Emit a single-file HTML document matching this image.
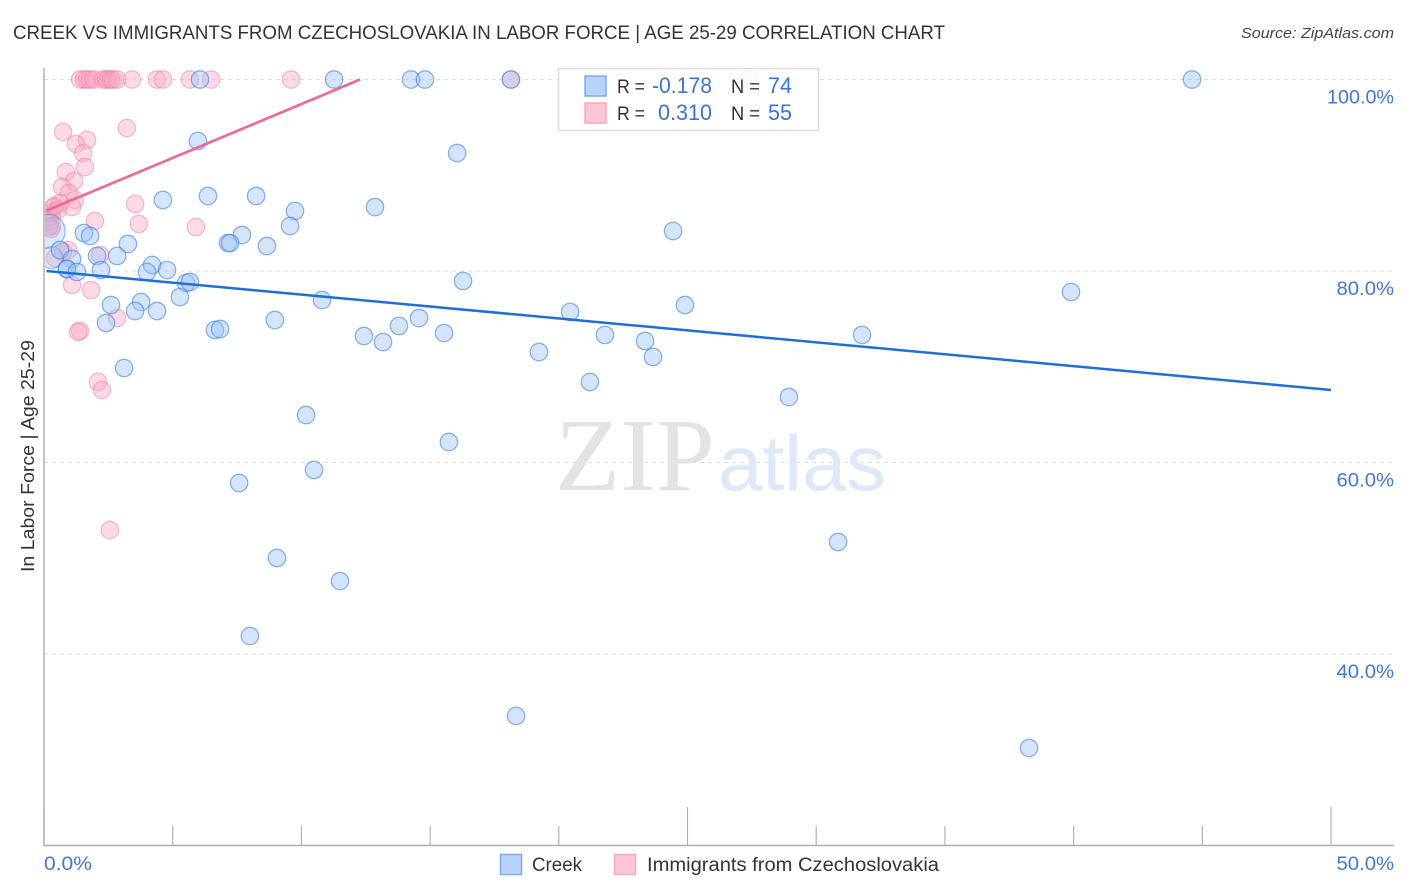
<!DOCTYPE html>
<html>
<head>
<meta charset="utf-8">
<title>Creek vs Immigrants from Czechoslovakia correlation chart</title>
<style>
html,body{margin:0;padding:0;background:#fff;width:1406px;height:892px;overflow:hidden}
svg{display:block;font-family:"Liberation Sans",sans-serif;filter:blur(0.3px)}
</style>
</head>
<body>
<svg id="chart" xmlns="http://www.w3.org/2000/svg" width="1406" height="892" viewBox="0 0 1406 892">
  <defs>
    <clipPath id="plot-clip"><rect x="45" y="60" width="1349" height="785"/></clipPath>
  </defs>
  <rect x="0" y="0" width="1406" height="892" fill="#ffffff"/>
  <text x="13" y="39" font-size="19" fill="#333333" textLength="932" lengthAdjust="spacingAndGlyphs">CREEK VS IMMIGRANTS FROM CZECHOSLOVAKIA IN LABOR FORCE | AGE 25-29 CORRELATION CHART</text>
  <text x="1241" y="38" font-size="15" font-style="italic" fill="#444444" textLength="153" lengthAdjust="spacingAndGlyphs">Source: ZipAtlas.com</text>
  <g id="grid"></g>
  <g>
    <text x="555" y="490" font-family="'Liberation Serif',serif" font-size="104" fill="#e3e3e3" textLength="160" lengthAdjust="spacingAndGlyphs">ZIP</text>
    <text x="718" y="490" font-size="78" fill="#dde8f8" textLength="168" lengthAdjust="spacingAndGlyphs">atlas</text>
  </g>
  <g id="axes"></g>
  <g id="points-pink" clip-path="url(#plot-clip)"></g>
  <g id="points-blue" clip-path="url(#plot-clip)"></g>
  <g id="lines"></g>
  <text transform="translate(34,572) rotate(-90)" font-size="18" fill="#333333" textLength="232" lengthAdjust="spacingAndGlyphs">In Labor Force | Age 25-29</text>
  <g id="tick-labels"></g>

  <g>
    <rect x="558.5" y="68.5" width="260" height="62" fill="#ffffff" fill-opacity="0.88" stroke="#dddddd" stroke-width="1.5"/>
    <rect x="585" y="76" width="21" height="20" fill="#b8d3f8" stroke="#7fabe8" stroke-width="1.5"/>
    <rect x="585" y="103" width="21" height="20" fill="#fdc6d7" stroke="#f5a9c0" stroke-width="1.5"/>
    <text x="617" y="93" font-size="19" fill="#333333" textLength="28" lengthAdjust="spacingAndGlyphs">R =</text>
    <text x="652" y="93" font-size="22" fill="#3b74d0" textLength="60" lengthAdjust="spacingAndGlyphs">-0.178</text>
    <text x="731" y="93" font-size="19" fill="#333333" textLength="29" lengthAdjust="spacingAndGlyphs">N =</text>
    <text x="768" y="93" font-size="22" fill="#3b74d0" textLength="24" lengthAdjust="spacingAndGlyphs">74</text>
    <text x="617" y="120" font-size="19" fill="#333333" textLength="28" lengthAdjust="spacingAndGlyphs">R =</text>
    <text x="658" y="120" font-size="22" fill="#3b74d0" textLength="54" lengthAdjust="spacingAndGlyphs">0.310</text>
    <text x="731" y="120" font-size="19" fill="#333333" textLength="29" lengthAdjust="spacingAndGlyphs">N =</text>
    <text x="768" y="120" font-size="22" fill="#3b74d0" textLength="24" lengthAdjust="spacingAndGlyphs">55</text>
  </g>

  <g>
    <rect x="500.5" y="854.5" width="21" height="20" fill="#b8d3f8" stroke="#7fabe8" stroke-width="1.5"/>
    <text x="532" y="871" font-size="19" fill="#333333" textLength="50" lengthAdjust="spacingAndGlyphs">Creek</text>
    <rect x="614.5" y="854.5" width="21" height="20" fill="#fdc6d7" stroke="#f5a9c0" stroke-width="1.5"/>
    <text x="647" y="871" font-size="19" fill="#333333" textLength="292" lengthAdjust="spacingAndGlyphs">Immigrants from Czechoslovakia</text>
  </g>
</svg>
<script>
var creekX = [6.06,11.27,14.26,14.80,18.14,27.35,44.60,5.98,16.05,6.37,4.62,8.24,9.75,12.86,9.56,24.44,1.55,1.79,7.69,7.15,7.23,3.26,8.66,0.62,2.84,2.06,1.09,0.89,4.20,4.00,4.78,0.89,1.28,2.21,5.52,5.67,16.28,5.28,2.60,3.77,10.80,39.90,24.90,3.54,4.39,20.44,2.41,8.97,14.57,13.79,6.64,6.84,15.54,12.43,13.17,21.79,23.35,31.78,19.23,23.66,3.11,21.21,28.94,10.18,15.73,10.49,7.58,30.85,9.05,11.50,8.00,18.34,38.27];
var creekY = [100,100,100,100,100,100,100,93.58,92.32,87.83,87.42,87.83,86.27,86.68,84.70,84.18,83.97,83.66,83.76,82.92,82.92,82.82,82.61,82.19,81.57,81.57,81.25,80.21,80.63,79.90,80.10,80.21,79.90,80.10,78.75,78.85,78.96,77.28,76.45,76.76,76.97,77.81,76.45,75.82,75.82,75.72,74.57,74.88,75.09,74.26,73.84,73.94,73.52,73.21,72.58,73.32,72.69,73.32,71.54,71.02,69.87,68.41,66.84,64.96,62.14,59.22,57.86,51.70,50.03,47.62,41.88,33.53,30.18];
var creekBigX = [0.16,0.3];
var creekBigY = [84.15,81.4];
var creekBigR = [17,11];

var immigrantsX = [1.40,1.55,1.67,1.79,1.94,2.29,2.41,2.49,2.60,2.68,2.84,3.42,4.39,4.62,5.67,6.49,9.60,18.14,0.74,1.67,1.24,1.52,3.22,1.59,0.85,1.17,0.70,0.97,1.20,1.09,3.54,3.69,1.98,5.90,0.93,2.18,0.43,0.74,1.09,1.83,2.84,1.40,1.32,2.10,2.25,2.56,0.23,0.31,0.16,0.23,0.31,0.27,0.19,0.43,0.62,0.35,0.54];
var immigrantsY = [100,100,100,100,100,100,100,100,100,100,100,100,100,100,100,100,100,100,94.52,93.68,93.26,92.32,94.93,90.86,90.34,89.40,88.77,88.15,87.42,86.68,87.00,84.91,85.22,84.60,82.19,81.67,81.36,81.98,78.54,78.02,75.09,73.73,73.63,68.41,67.57,52.95,86.06,85.85,85.54,85.12,84.70,84.39,84.60,86.79,87.10,86.68,86.37];

var creekTrendX = [0.1,50];
var creekTrendY = [80.0,67.57];
var immigrantsTrendX = [0.1,12.28];
var immigrantsTrendY = [86.3,100];

var yTicks = [100,80,60,40];
var yTickLabels = ["100.0%","80.0%","60.0%","40.0%"];
var xTicks = [0,5,10,15,20,25,30,35,40,45,50];
var xMajorTicks = [0,25,50];
var xEndLabels = ["0.0%","50.0%"];

var NS = 'http://www.w3.org/2000/svg';
function sx(v){ return 44 + v * 25.74; }
function sy(v){ return 79.5 + (100 - v) * 9.575; }
function labelWidth(s){ return 9.5 * s.length + 10; }
function mk(tag, parent, attrs){
  var el = document.createElementNS(NS, tag);
  for (var k in attrs) el.setAttribute(k, attrs[k]);
  parent.appendChild(el);
  return el;
}

var grid = document.getElementById('grid');
var axes = document.getElementById('axes');
var tickLabels = document.getElementById('tick-labels');
var pinkGroup = document.getElementById('points-pink');
var blueGroup = document.getElementById('points-blue');
var lines = document.getElementById('lines');

yTicks.forEach(function(t, i){
  var g = mk('line', grid, {x1:44, x2:1394, y1:sy(t), y2:sy(t), stroke:'#dcdcdc', 'stroke-width':1, 'stroke-dasharray':'4 4'});
  
  
  var w = labelWidth(yTickLabels[i]);
  var l = mk('text', tickLabels, {x:1394 - w, y:sy(t)+24, 'font-size':19.5, fill:'#3f78d4', textLength:w, lengthAdjust:'spacingAndGlyphs'});
  
  
  l.textContent = yTickLabels[i];
});

xTicks.forEach(function(t){
  var top = xMajorTicks.indexOf(t) >= 0 ? 807 : 826;
  var tk = mk('line', axes, {x1:sx(t), x2:sx(t), y1:top, y2:846, stroke:'#b3b3b3', 'stroke-width':1.2});
  
  
});

var yAxis = mk('line', axes, {x1:44, x2:44, y1:68, y2:846, stroke:'#b0b0b0', 'stroke-width':1.5});


var xAxis = mk('line', axes, {x1:44, x2:1394, y1:845.5, y2:845.5, stroke:'#b0b0b0', 'stroke-width':1.5});



var x0 = mk('text', tickLabels, {x:44, y:870, 'font-size':19.5, fill:'#3f78d4', textLength:labelWidth(xEndLabels[0]), lengthAdjust:'spacingAndGlyphs'});


x0.textContent = xEndLabels[0];
var x1 = mk('text', tickLabels, {x:1394 - labelWidth(xEndLabels[1]), y:870, 'font-size':19.5, fill:'#3f78d4', textLength:labelWidth(xEndLabels[1]), lengthAdjust:'spacingAndGlyphs'});


x1.textContent = xEndLabels[1];

immigrantsX.forEach(function(v, i){
  var c = mk('circle', pinkGroup, {cx:sx(v), cy:sy(immigrantsY[i]), r:8.7, fill:'#fba6c0', 'fill-opacity':0.4, stroke:'#ef7fa3', 'stroke-opacity':0.5, 'stroke-width':1.3});
  
  
});
creekBigX.forEach(function(v, i){
  var c = mk('circle', blueGroup, {cx:sx(v), cy:sy(creekBigY[i]), r:creekBigR[i], fill:'#9cc2f5', 'fill-opacity':0.38, stroke:'#4d8fe3', 'stroke-opacity':0.55, 'stroke-width':1.3});
  
  
});
creekX.forEach(function(v, i){
  var c = mk('circle', blueGroup, {cx:sx(v), cy:sy(creekY[i]), r:8.7, fill:'#9cc2f5', 'fill-opacity':0.44, stroke:'#3f84df', 'stroke-opacity':0.6, 'stroke-width':1.3});
  
  
});

var trendBlue = mk('line', lines, {x1:sx(creekTrendX[0]), y1:sy(creekTrendY[0]), x2:sx(creekTrendX[1]), y2:sy(creekTrendY[1]), stroke:'#1f6fd6', 'stroke-width':2.5});


var trendPink = mk('line', lines, {x1:sx(immigrantsTrendX[0]), y1:sy(immigrantsTrendY[0]), x2:sx(immigrantsTrendX[1]), y2:sy(immigrantsTrendY[1]), stroke:'#ec6a96', 'stroke-width':2.7});


</script>
</body>
</html>
